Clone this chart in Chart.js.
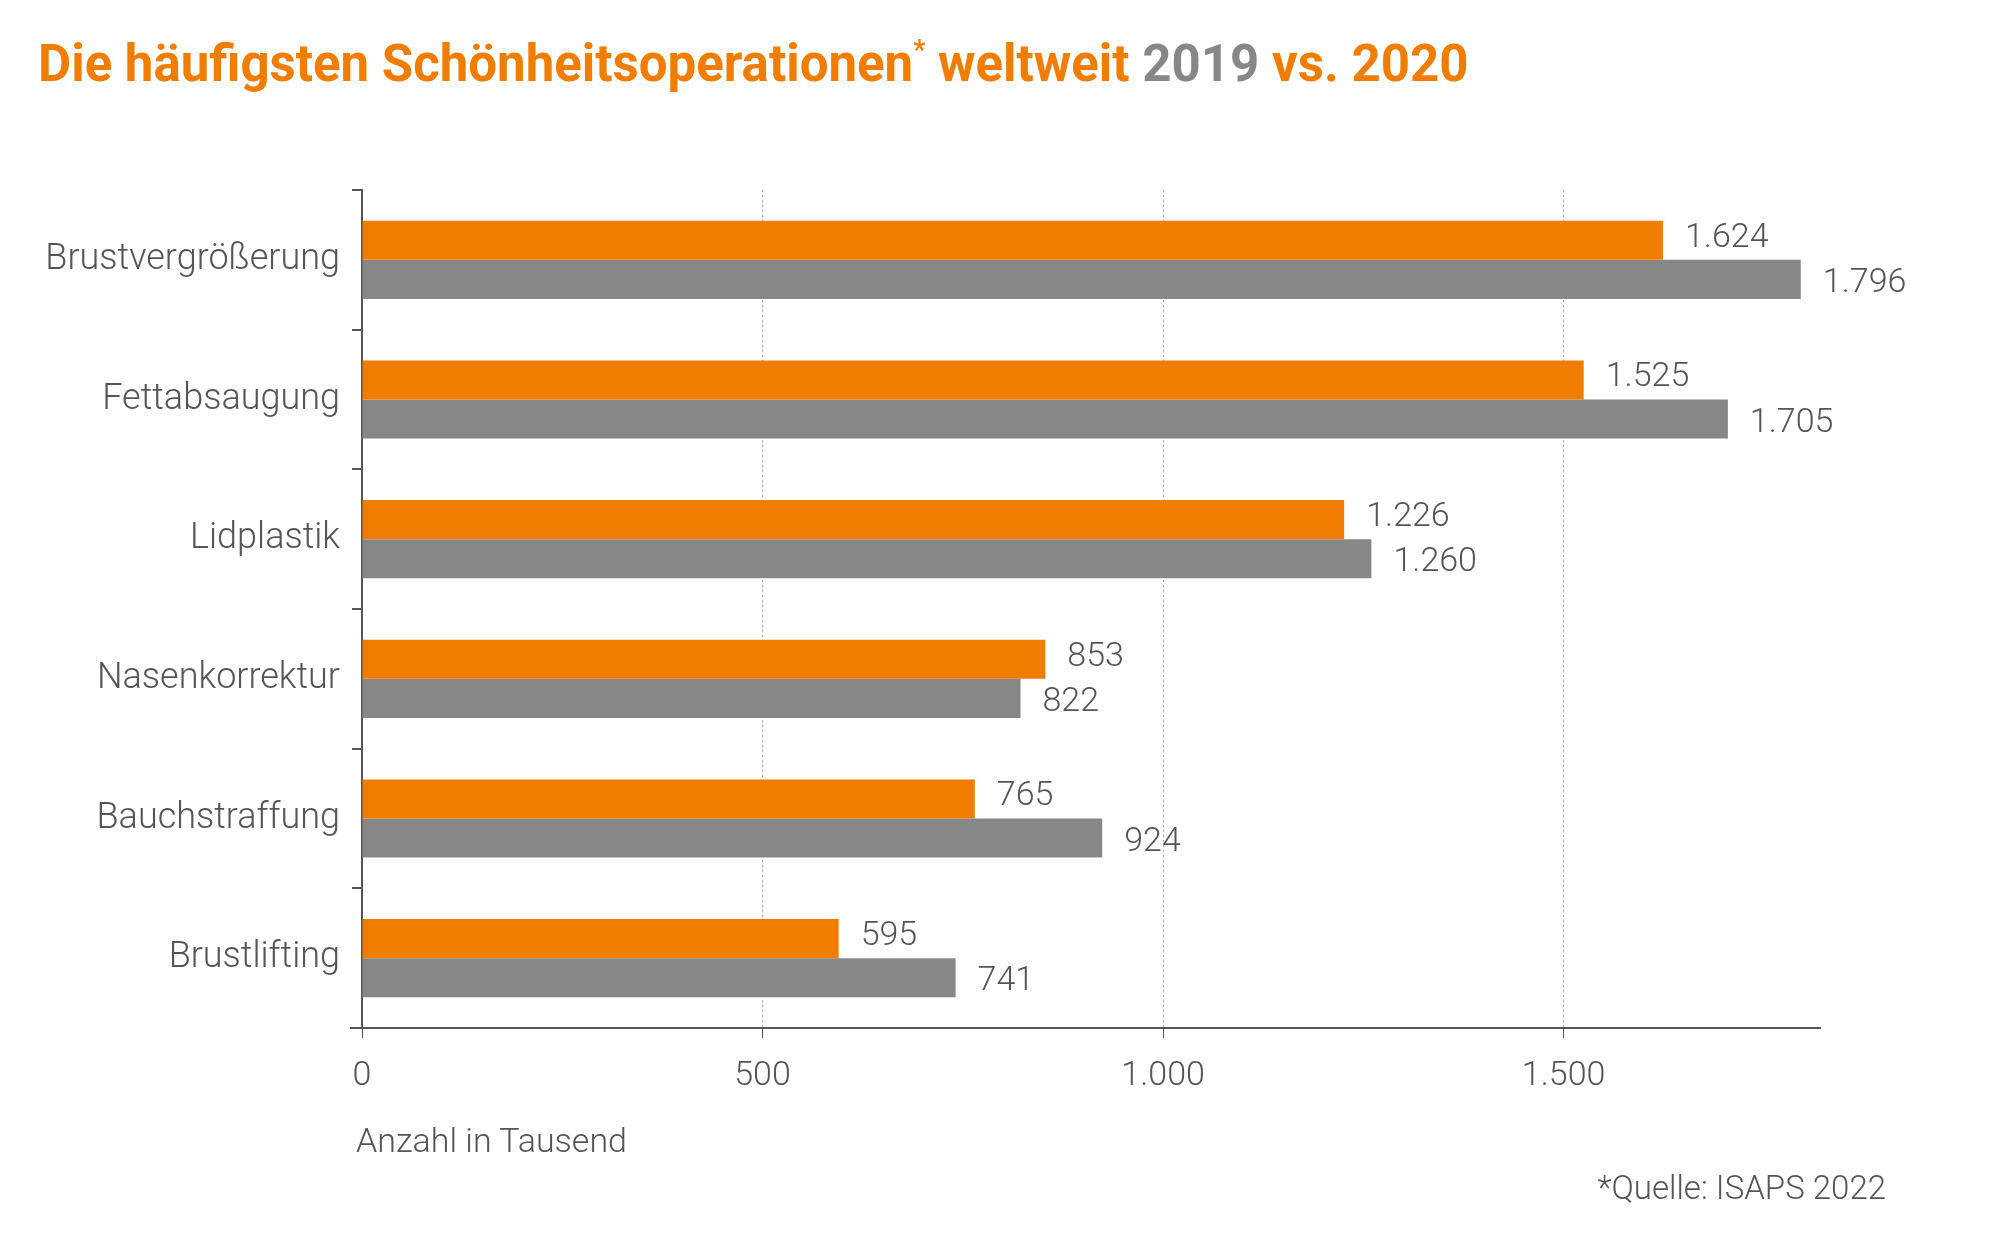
<!DOCTYPE html>
<html>
<head>
<meta charset="utf-8">
<script src="https://cdn.jsdelivr.net/npm/chart.js@4.4.1/dist/chart.umd.min.js"></script>
<style>
  html, body { margin: 0; padding: 0; background: #fff; }
  #wrap { position: relative; width: 2000px; height: 1250px; font-family: Roboto, sans-serif; }
  #title { position: absolute; left: 38px; top: 34px; font-size: 51px; font-weight: 700; color: #F07D00; white-space: nowrap; }
  #title .g { color: #878787; }
  #title sup { font-size: 27px; vertical-align: 22px; }
  #xtitle { position: absolute; left: 356px; top: 1120px; font-size: 34px; font-weight: 300; color: #555; }
  #source { position: absolute; right: 114px; top: 1168px; font-size: 33px; font-weight: 300; color: #555; }
  canvas { position: absolute; left: 0; top: 0; }
</style>
</head>
<body>
<div id="wrap">
  <canvas id="chart" width="2000" height="1250"></canvas>
  <div id="title">Die häufigsten Schönheitsoperationen<sup>*</sup> weltweit <span class="g">2019</span> vs. 2020</div>
  <div id="xtitle">Anzahl in Tausend</div>
  <div id="source">*Quelle: ISAPS 2022</div>
</div>
<script>
const categories = ['Brustvergrößerung', 'Fettabsaugung', 'Lidplastik', 'Nasenkorrektur', 'Bauchstraffung', 'Brustlifting'];
const values2020 = [1624, 1525, 1226, 853, 765, 595];
const values2019 = [1796, 1705, 1260, 822, 924, 741];
const xTicks = [0, 500, 1000, 1500];

const ORANGE = '#F07D00';
const GREY = '#878787';

// value labels at the end of each bar
const valueLabels = {
    id: 'valueLabels',
    afterDatasetsDraw(chart) {
        const ctx = chart.ctx;
        ctx.save();
        ctx.font = '300 34px Roboto';
        ctx.fillStyle = '#555';
        ctx.textBaseline = 'middle';
        chart.data.datasets.forEach((ds, i) => {
            chart.getDatasetMeta(i).data.forEach((bar, j) => {
                const shift = i == 0 ? -2 : 4;
                ctx.fillText(ds.data[j].toLocaleString('de-DE'), bar.x + 22, bar.y + shift);
            });
        });
        ctx.restore();
    }
};

new Chart(document.getElementById('chart'), {
    type: 'bar',
    data: {
        labels: categories,
        datasets: [
            {label: '2020', data: values2020, backgroundColor: ORANGE},
            {label: '2019', data: values2019, backgroundColor: GREY}
        ]
    },
    options: {
        indexAxis: 'y',
        responsive: false,
        animation: false,
        layout: {padding: {top: 190, right: 180, left: 0, bottom: 0}},
        categoryPercentage: 0.56,
        barPercentage: 1,
        plugins: {legend: {display: false}, tooltip: {enabled: false}},
        scales: {
            x: {
                min: 0, max: 1820,
                afterBuildTicks: (axis) => { axis.ticks = xTicks.map(v => ({value: v})); },
                afterFit: (axis) => { axis.height = 222; },
                ticks: {
                    color: '#555', font: {family: 'Roboto', size: 34, weight: 300}, padding: 18,
                    callback: (v) => v.toLocaleString('de-DE')
                },
                grid: {
                    color: (c) => c.tick && c.tick.value == 0 ? 'rgba(0,0,0,0)' : '#aaa',
                    lineWidth: 1, tickLength: 10, drawTicks: true,
                    tickColor: '#555'
                },
                border: {display: true, color: '#555', width: 2, dash: [2, 3]}
            },
            y: {
                afterFit: (axis) => { axis.width = 362; },
                ticks: {color: '#555', font: {family: 'Roboto', size: 36, weight: 300}, padding: 12},
                grid: {offset: true, drawOnChartArea: false, tickLength: 10, tickColor: '#555', lineWidth: 2},
                border: {display: true, color: '#555', width: 2}
            }
        }
    },
    plugins: [valueLabels, {
        // solid x axis line (the border dash applies to grid lines)
        id: 'xline',
        afterDraw(chart) {
            const a = chart.chartArea, ctx = chart.ctx;
            ctx.save();
            ctx.strokeStyle = '#555';
            ctx.lineWidth = 2;
            ctx.beginPath();
            ctx.moveTo(a.left - 12, a.bottom);
            ctx.lineTo(a.right, a.bottom);
            ctx.stroke();
            ctx.restore();
        }
    }]
});
</script>
</body>
</html>
